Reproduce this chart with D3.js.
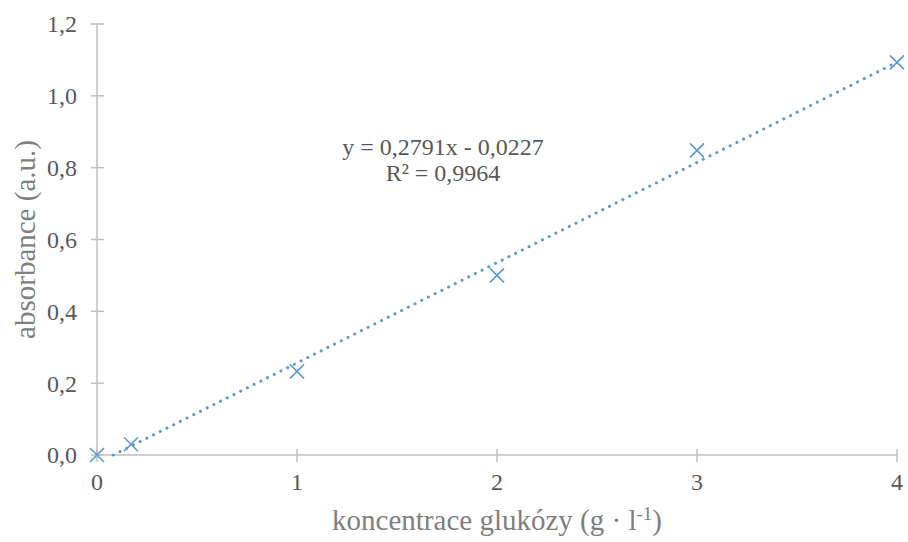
<!DOCTYPE html>
<html>
<head>
<meta charset="utf-8">
<script src="https://cdn.jsdelivr.net/npm/d3@7"></script>
<style>
  body { margin: 0; background: #fff; }
</style>
</head>
<body>
<div id="chart"></div>
<script>
const concentrations = [0, 0.17, 1, 2, 3, 4];
const absorbances = [0, 0.03, 0.233, 0.5, 0.848, 1.093];
const xTicks = [0, 1, 2, 3, 4];
const yTicks = [0, 0.2, 0.4, 0.6, 0.8, 1.0, 1.2];
const slope = 0.2791;
const intercept = -0.0227;
const equationLines = ['y = 0,2791x - 0,0227', 'R² = 0,9964'];

const width = 908, height = 542;
const margin = { top: 24, right: 11, bottom: 87, left: 97 };
const serif = "'Liberation Serif', 'Times New Roman', Times, serif";

const svg = d3.select('#chart').append('svg')
  .attr('width', width)
  .attr('height', height)
  .attr('font-family', serif);

const x = d3.scaleLinear().domain([0, 4]).range([margin.left, width - margin.right]);
const y = d3.scaleLinear().domain([0, 1.2]).range([height - margin.bottom, margin.top]);

const axisColor = '#bfbfbf';
const labelColor = '#595959';
const comma = d => d3.format('.1f')(d).replace('.', ',');

// Y axis (ticks cross the line)
const yAxis = svg.append('g').attr('transform', `translate(${x(0)},0)`);
yAxis.append('line')
  .attr('y1', y(0)).attr('y2', y(1.2))
  .attr('stroke', axisColor).attr('stroke-width', 1.5);
yAxis.selectAll('.tick').data(yTicks).join('line')
  .attr('x1', -6).attr('x2', 7)
  .attr('y1', d => y(d)).attr('y2', d => y(d))
  .attr('stroke', axisColor).attr('stroke-width', 1.5);
yAxis.selectAll('text').data(yTicks).join('text')
  .attr('x', -20).attr('y', d => y(d))
  .attr('dy', '0.35em')
  .attr('text-anchor', 'end')
  .attr('font-size', 24)
  .attr('fill', labelColor)
  .text(comma);

// X axis
const xAxis = svg.append('g').attr('transform', `translate(0,${y(0)})`);
xAxis.append('line')
  .attr('x1', x(0)).attr('x2', x(4))
  .attr('stroke', axisColor).attr('stroke-width', 1.5);
xAxis.selectAll('.tick').data(xTicks).join('line')
  .attr('x1', d => x(d)).attr('x2', d => x(d))
  .attr('y1', -6).attr('y2', 7)
  .attr('stroke', axisColor).attr('stroke-width', 1.5);
xAxis.selectAll('text').data(xTicks).join('text')
  .attr('x', d => x(d)).attr('y', 35)
  .attr('text-anchor', 'middle')
  .attr('font-size', 24)
  .attr('fill', labelColor)
  .text(d => d);

// Axis titles
svg.append('text')
  .attr('transform', `translate(35,${(y(0) + y(1.2)) / 2}) rotate(-90)`)
  .attr('text-anchor', 'middle')
  .attr('font-size', 29)
  .attr('fill', '#7f7f7f')
  .text('absorbance (a.u.)');

const xTitle = svg.append('text')
  .attr('x', x(2)).attr('y', 530)
  .attr('text-anchor', 'middle')
  .attr('font-size', 29)
  .attr('fill', '#7f7f7f');
xTitle.append('tspan').text('koncentrace glukózy (g · l');
xTitle.append('tspan').attr('dy', -10).attr('font-size', 19).text('-1');
xTitle.append('tspan').attr('dy', 10).text(')');

// Trendline, clipped at y = 0
const x0 = -intercept / slope;
const trend = [x0, 4].map(v => ({ cx: v, cy: slope * v + intercept }));
svg.append('path')
  .datum(trend)
  .attr('fill', 'none')
  .attr('stroke', '#5b9bd5')
  .attr('stroke-width', 3)
  .attr('stroke-linecap', 'round')
  .attr('stroke-dasharray', '0.1 7.4')
  .attr('d', d3.line().x(d => x(d.cx)).y(d => y(d.cy)));

// Markers
const points = concentrations.map((c, i) => ({ c, a: absorbances[i] }));
const s = 7;
svg.selectAll('.mark').data(points).join('path')
  .attr('class', 'mark')
  .attr('transform', d => `translate(${x(d.c)},${y(d.a)})`)
  .attr('d', `M${-s},${-s}L${s},${s}M${-s},${s}L${s},${-s}`)
  .attr('stroke', '#5b9bd5')
  .attr('stroke-width', 1.6)
  .attr('fill', 'none');

// Equation label
svg.selectAll('.eq').data(equationLines).join('text')
  .attr('class', 'eq')
  .attr('x', 443)
  .attr('y', (d, i) => 155 + i * 26)
  .attr('text-anchor', 'middle')
  .attr('font-size', 24)
  .attr('fill', labelColor)
  .text(d => d);
</script>
</body>
</html>
